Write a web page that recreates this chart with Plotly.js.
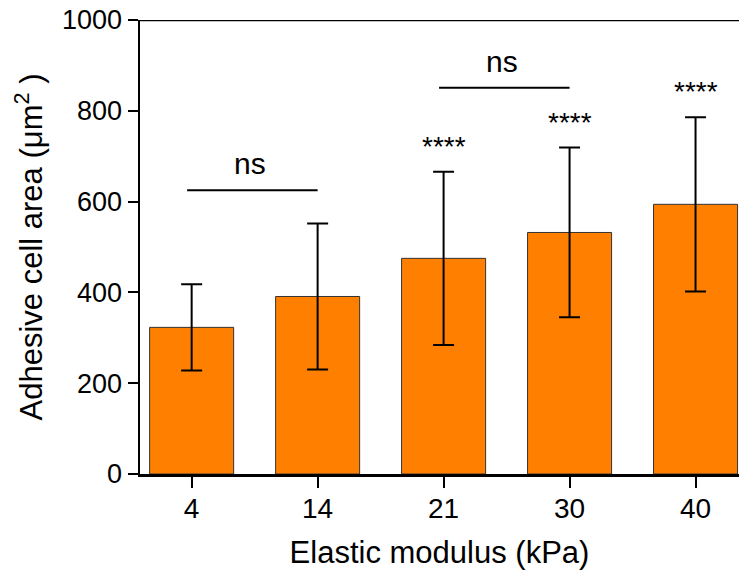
<!DOCTYPE html>
<html><head><meta charset="utf-8">
<script src="https://cdn.plot.ly/plotly-3.0.1.min.js"></script>
<style>html,body{margin:0;padding:0;background:#fff}#chart{width:740px;height:571px}</style>
</head><body><div id="chart"></div>
<script>
const categories = ["4", "14", "21", "30", "40"];
const meanArea = [323, 391, 475, 532, 594];
const sdArea = [95, 161, 191, 187, 192];
const starLabels = ["", "", "****", "****", "****"];
const nsPairs = [[0, 1, 625], [2, 3, 851]];
const yTicks = [0, 200, 400, 600, 800, 1000];

const FONT = "Liberation Sans, Arial, sans-serif";

const trace = {
  type: "bar",
  x: categories,
  y: meanArea,
  width: 0.667,
  marker: {color: "#FF8000", line: {color: "#333333", width: 1}},
  error_y: {type: "data", array: sdArea, visible: true, color: "#000", thickness: 2, width: 10.5},
  hoverinfo: "skip"
};

const annotations = [];
const shapes = [];
categories.forEach((c, i) => {
  if (starLabels[i]) {
    annotations.push({x: i, y: meanArea[i] + sdArea[i], xref: "x", yref: "y", text: starLabels[i],
      showarrow: false, yanchor: "bottom", yshift: 8, font: {family: FONT, size: 28, color: "#000"}});
  }
});
nsPairs.forEach(p => {
  shapes.push({type: "line", xref: "x", yref: "y", x0: p[0] - 0.036, x1: p[1], y0: p[2], y1: p[2],
    line: {color: "#000", width: 2}});
  annotations.push({x: (p[0] + p[1]) / 2 - 0.035, y: p[2], xref: "x", yref: "y", text: "ns", showarrow: false,
    yanchor: "bottom", yshift: 8, font: {family: FONT, size: 30, color: "#000"}});
});
shapes.push({type: "line", xref: "paper", yref: "y", x0: 0, x1: 1, y0: 1000, y1: 1000,
  line: {color: "#000", width: 2.5}});

const layout = {
  width: 740, height: 571,
  margin: {l: 140, r: 1, t: 20, b: 97},
  paper_bgcolor: "#fff", plot_bgcolor: "#fff",
  showlegend: false,
  font: {family: FONT, color: "#000"},
  xaxis: {
    type: "category", range: [-0.41, 4.345],
    showline: true, linecolor: "#000", linewidth: 2.5,
    ticks: "outside", ticklen: 11, tickwidth: 2, tickcolor: "#000",
    ticklabelstandoff: -3,
    tickfont: {family: FONT, size: 28, color: "#000"},
    showgrid: false, zeroline: false,
    title: {text: "Elastic modulus (kPa)", font: {family: FONT, size: 31, color: "#000"}, standoff: 18}
  },
  yaxis: {
    range: [0, 1000], tickvals: yTicks,
    showline: true, linecolor: "#000", linewidth: 2.5,
    ticks: "outside", ticklen: 10, tickwidth: 2, tickcolor: "#000",
    tickfont: {family: FONT, size: 27, color: "#000"},
    showgrid: false, zeroline: false,
    title: {text: "Adhesive cell area (μm<sup>2</sup> )", font: {family: FONT, size: 31, color: "#000"}, standoff: 10}
  },
  shapes: shapes,
  annotations: annotations
};

Plotly.newPlot("chart", [trace], layout, {displayModeBar: false, staticPlot: true});
</script></body></html>
